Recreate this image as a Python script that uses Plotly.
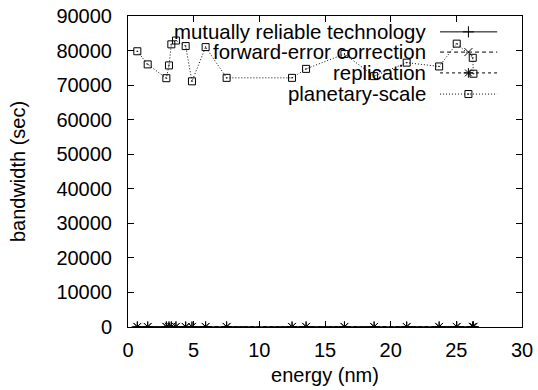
import plotly.graph_objects as go

energy = [0.71, 1.5, 2.92, 3.12, 3.3, 3.65, 4.39, 4.87, 5.91, 7.51, 12.49,
          13.56, 16.48, 18.74, 21.22, 23.69, 25.03, 26.25, 26.3]
planetary_scale = [79800, 76000, 72000, 75700, 81800, 82900, 81300, 71100, 81000,
                   72100, 72100, 74700, 79000, 72600, 76500, 75400, 82000, 77900, 73300]
mutually_reliable = [60, 45, 70, 50, 65, 80, 55, 40, 75, 60, 50, 65, 70, 45, 55, 60, 75, 50, 65]
forward_error = [30, 25, 40, 35, 30, 45, 25, 20, 35, 30, 25, 40, 35, 30, 25, 30, 40, 35, 30]
replication = [90, 80, 100, 85, 95, 110, 85, 75, 100, 90, 80, 95, 100, 85, 90, 95, 105, 90, 85]

names = ["mutually reliable technology", "forward-error correction", "replication", "planetary-scale"]
series = [mutually_reliable, forward_error, replication, planetary_scale]
symbols = ["cross-thin-open", "x-thin-open", "asterisk-open", "square-open-dot"]
dashes = ["solid", "4px,3px", "3px,3px", "1px,2px"]
msizes = [8, 8, 8, 7]

FONT = "Liberation Sans, Arial, sans-serif"
fig = go.Figure()
for n, s, sym, d, ms in zip(names, series, symbols, dashes, msizes):
    fig.add_trace(go.Scatter(
        x=energy, y=s, mode="lines+markers", name=n, showlegend=False,
        line=dict(color="black", width=1, dash=d),
        marker=dict(symbol=sym, size=ms, color="black", line=dict(color="black", width=1)),
    ))

# manual gnuplot-style legend (text right-aligned, sample on the right)
leg_y = [0.949, 0.884, 0.817, 0.749]
for n, sym, d, ms, yy in zip(names, symbols, dashes, msizes, leg_y):
    fig.add_annotation(x=0.762, y=yy, xref="paper", yref="paper", text=n,
                       showarrow=False, xanchor="right", yanchor="middle",
                       font=dict(family=FONT, size=20.4, color="black"))
    fig.add_trace(go.Scatter(
        x=[0.792, 0.937], y=[yy, yy], xaxis="x2", yaxis="y2", mode="lines",
        line=dict(color="black", width=1, dash=d), showlegend=False, hoverinfo="skip"))
    fig.add_trace(go.Scatter(
        x=[0.864], y=[yy], xaxis="x2", yaxis="y2", mode="markers",
        marker=dict(symbol=sym, size=ms, color="black", line=dict(color="black", width=1)),
        showlegend=False, hoverinfo="skip"))

axis_common = dict(showgrid=False, zeroline=False, showline=True, linecolor="black",
                   linewidth=1, mirror="allticks", ticks="inside", ticklen=6,
                   tickcolor="black", automargin=False,
                   tickfont=dict(family=FONT, size=20, color="black"))
fig.update_layout(
    width=538, height=390, margin=dict(l=128, r=16, t=16, b=63),
    paper_bgcolor="white", plot_bgcolor="white",
    font=dict(family=FONT, size=20, color="black"),
    xaxis=dict(range=[0, 30], dtick=5, ticklabelstandoff=5,
               title=dict(text="energy (nm)", standoff=7, font=dict(family=FONT, size=20)),
               **axis_common),
    yaxis=dict(range=[0, 90000], dtick=10000, tickformat="d", ticklabelstandoff=11,
               title=dict(text="bandwidth (sec)", standoff=25, font=dict(family=FONT, size=20)),
               **axis_common),
    xaxis2=dict(range=[0, 1], overlaying="x", visible=False, fixedrange=True),
    yaxis2=dict(range=[0, 1], overlaying="y", visible=False, fixedrange=True),
)
fig.write_html("out.html")
